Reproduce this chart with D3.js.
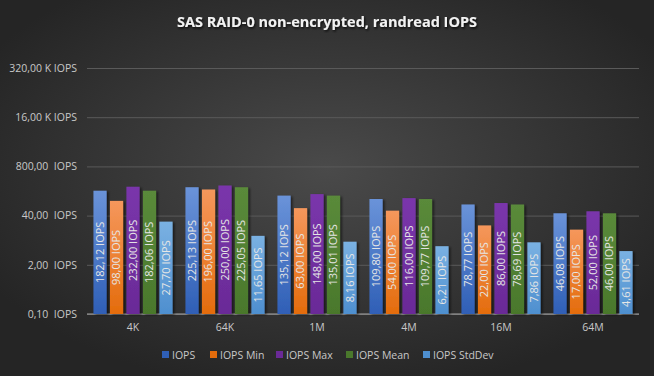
<!DOCTYPE html>
<html>
<head>
<meta charset="utf-8">
<script src="https://cdn.jsdelivr.net/npm/d3@7"></script>
<style>
  body { margin: 0; background: #2a2a2a; }
  svg { display: block; }
  text { font-family: "Open Sans", "DejaVu Sans", sans-serif; }
</style>
</head>
<body>
<script>
//////////////// Data ////////////////////
var categories = ["4K", "64K", "1M", "4M", "16M", "64M"];
var seriesNames = ["IOPS", "IOPS Min", "IOPS Max", "IOPS Mean", "IOPS StdDev"];
var iops       = [182.12, 225.13, 135.12, 109.80, 78.77, 46.08];
var iopsMin    = [98.00, 196.00, 63.00, 54.00, 22.00, 17.00];
var iopsMax    = [232.00, 250.00, 148.00, 116.00, 86.00, 52.00];
var iopsMean   = [182.06, 225.05, 135.01, 109.77, 78.69, 46.00];
var iopsStdDev = [27.70, 11.65, 8.16, 6.21, 7.86, 4.61];
var tickValues = [0.1, 2, 40, 800, 16000, 320000];

var seriesValues = [iops, iopsMin, iopsMax, iopsMean, iopsStdDev];
var colors = [
  ["#6a93d9", "#2f5fb6"],
  ["#f5975c", "#e46c0c"],
  ["#7a36ab", "#6a2a97"],
  ["#5a8a3a", "#4a782c"],
  ["#7ab1e2", "#4e8fcf"]
];

//////////////// Variables ////////////////////
var W = 654, H = 376;
var plot = {left: 87, right: 639, top: 68, bottom: 314};

var svg = d3.select("body").append("svg")
  .attr("width", W)
  .attr("height", H);

var defs = svg.append("defs");
var bg = defs.append("radialGradient").attr("id", "bg")
  .attr("cx", "50%").attr("cy", "45%").attr("r", "60%");
bg.append("stop").attr("offset", "0%").attr("stop-color", "#4a4a4a");
bg.append("stop").attr("offset", "100%").attr("stop-color", "#252525");

colors.forEach(function(c, i){
  var g = defs.append("linearGradient").attr("id", "g" + i)
    .attr("x1", 0).attr("y1", 0).attr("x2", 0).attr("y2", 1);
  g.append("stop").attr("offset", "0%").attr("stop-color", c[0]);
  g.append("stop").attr("offset", "100%").attr("stop-color", c[1]);
});

var shadow = defs.append("filter").attr("id", "shadow")
  .attr("x", "-30%").attr("y", "-10%").attr("width", "160%").attr("height", "120%");
shadow.append("feDropShadow").attr("dx", 2).attr("dy", 1).attr("stdDeviation", 1.2)
  .attr("flood-color", "#000").attr("flood-opacity", 0.5);

var titleShadow = defs.append("filter").attr("id", "tshadow");
titleShadow.append("feDropShadow").attr("dx", 1).attr("dy", 1.5).attr("stdDeviation", 1)
  .attr("flood-color", "#000").attr("flood-opacity", 0.8);

svg.append("rect").attr("width", W).attr("height", H).attr("fill", "url(#bg)");

//////////////// Scales ////////////////////
var y = d3.scaleLog().base(20)
  .domain([0.1, 320000])
  .range([plot.bottom, plot.top]);

var x0 = d3.scaleBand()
  .domain(categories)
  .range([plot.left, plot.right])
  .paddingInner(0.14)
  .paddingOuter(0.07);

var x1 = d3.scaleBand()
  .domain(d3.range(seriesNames.length))
  .range([0, x0.bandwidth()])
  .paddingInner(0.2);

function fmtNum(v){ return v.toFixed(2).replace(".", ","); }
function fmtTick(v){
  return v >= 1000 ? fmtNum(v / 1000) + " K IOPS" : fmtNum(v) + "  IOPS";
}

//////////////// Title ////////////////////
svg.append("text")
  .attr("x", W / 2).attr("y", 27)
  .attr("text-anchor", "middle")
  .attr("fill", "#f2f2f2")
  .attr("font-size", 14.5)
  .attr("font-weight", "bold")
  .attr("filter", "url(#tshadow)")
  .text("SAS RAID-0 non-encrypted, randread IOPS");

//////////////// Axes ////////////////////
var yAxis = d3.axisLeft(y).tickValues(tickValues).tickFormat(fmtTick)
  .tickSize(-(plot.right - plot.left)).tickPadding(10);

var yG = svg.append("g")
  .attr("transform", "translate(" + plot.left + ",0)")
  .call(yAxis);
yG.select(".domain").remove();
yG.selectAll(".tick line").attr("stroke", "#5a5a5a").attr("stroke-width", 1);
yG.selectAll(".tick text")
  .attr("fill", "#c8c8c8")
  .attr("font-size", 10.5)
  .style("white-space", "pre");

var xAxis = d3.axisBottom(x0).tickSize(0).tickPadding(10);
var xG = svg.append("g")
  .attr("transform", "translate(0," + plot.bottom + ")")
  .call(xAxis);
xG.select(".domain").attr("stroke", "#a6a6a6").attr("d", "M" + plot.left + ",0H" + plot.right);
xG.selectAll(".tick text").attr("fill", "#c8c8c8").attr("font-size", 10.5);

//////////////// Bars ////////////////////
var rows = categories.map(function(c, ci){
  return {cat: c, vals: seriesValues.map(function(s, si){ return {si: si, v: s[ci]}; })};
});

var groups = svg.selectAll("g.grp")
  .data(rows)
  .enter().append("g")
  .attr("class", "grp")
  .attr("transform", function(d){ return "translate(" + x0(d.cat) + ",0)"; });

groups.selectAll("rect")
  .data(function(d){ return d.vals; })
  .enter().append("rect")
  .attr("x", function(d){ return x1(d.si); })
  .attr("y", function(d){ return y(d.v); })
  .attr("width", x1.bandwidth())
  .attr("height", function(d){ return plot.bottom - y(d.v); })
  .attr("fill", function(d){ return "url(#g" + d.si + ")"; })
  .attr("filter", "url(#shadow)");

groups.selectAll("text.lbl")
  .data(function(d){ return d.vals; })
  .enter().append("text")
  .attr("class", "lbl")
  .attr("transform", function(d){
    var cx = x1(d.si) + x1.bandwidth() / 2;
    var cy = (y(d.v) + plot.bottom) / 2;
    return "translate(" + cx + "," + cy + ") rotate(-90)";
  })
  .attr("text-anchor", "middle")
  .attr("dy", "0.35em")
  .attr("fill", "#e6e6e6")
  .attr("font-size", 11)
  .text(function(d){ return fmtNum(d.v) + " IOPS"; });

//////////////// Legend ////////////////////
var legendX = [162, 210, 276, 346, 423];
var legend = svg.selectAll("g.leg")
  .data(seriesNames)
  .enter().append("g")
  .attr("class", "leg")
  .attr("transform", function(d, i){ return "translate(" + legendX[i] + ",355)"; });
legend.append("rect")
  .attr("x", 0).attr("y", -4).attr("width", 7).attr("height", 7)
  .attr("fill", function(d, i){ return colors[i][1]; });
legend.append("text")
  .attr("x", 10).attr("y", 0).attr("dy", "0.35em")
  .attr("fill", "#c8c8c8")
  .attr("font-size", 10.5)
  .text(function(d){ return d; });
</script>
</body>
</html>
